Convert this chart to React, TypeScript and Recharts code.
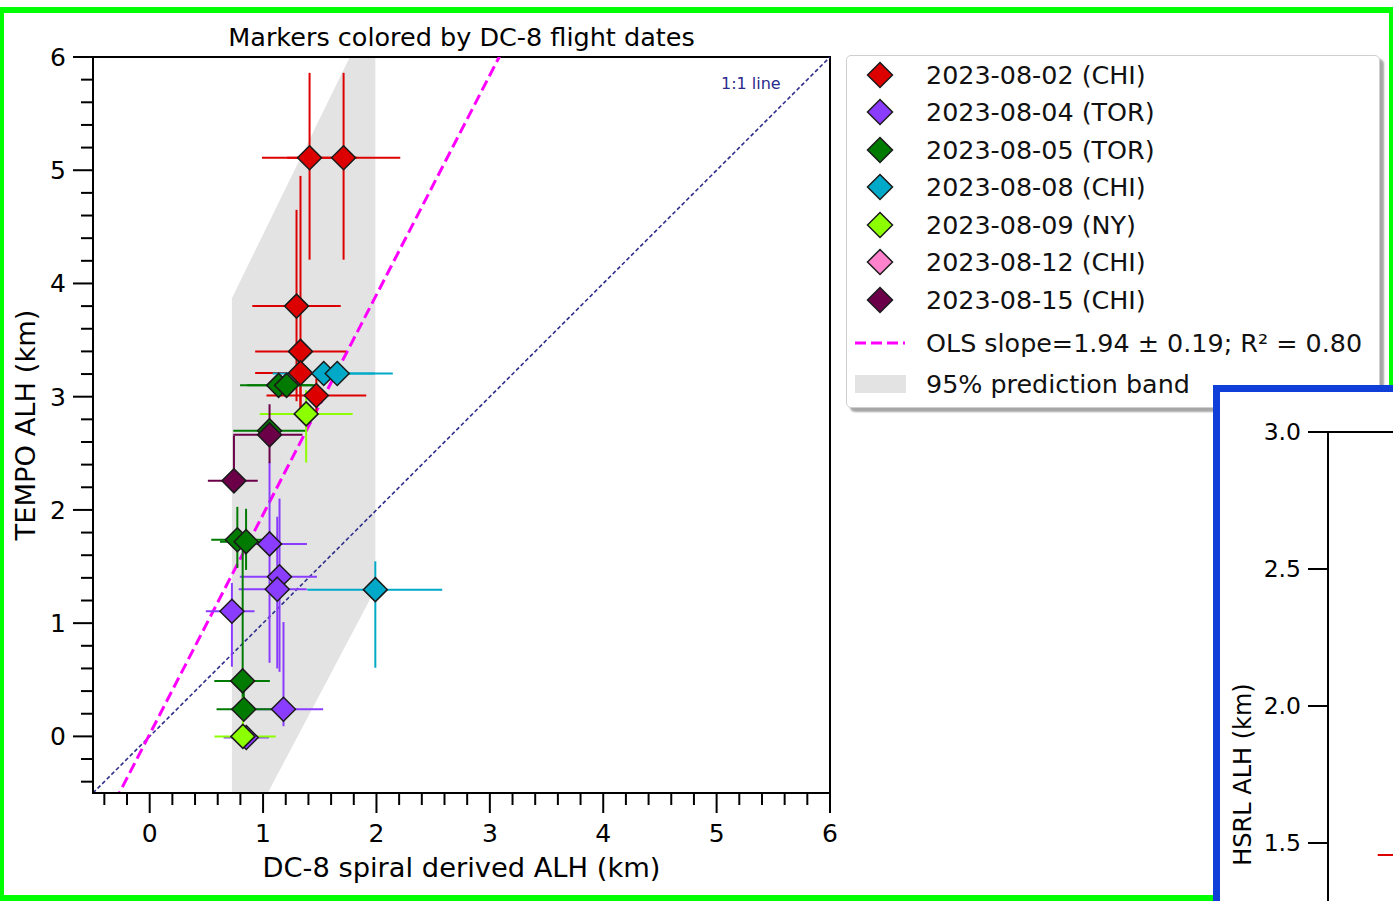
import React from 'react'
import {
  ComposedChart,
  Scatter,
  ErrorBar,
  XAxis,
  YAxis,
  Area,
  ReferenceLine,
  ReferenceArea,
  Label,
} from 'recharts'

const FONT = '"DejaVu Sans", sans-serif'

const flightLabels = [
  '2023-08-02 (CHI)',
  '2023-08-04 (TOR)',
  '2023-08-05 (TOR)',
  '2023-08-08 (CHI)',
  '2023-08-09 (NY)',
  '2023-08-12 (CHI)',
  '2023-08-15 (CHI)',
]
const flightColors = ['#dd0000', '#8b3dff', '#007a00', '#00a9c7', '#8cff00', '#ff82cc', '#6b0049']

// [dc8 x, tempo y, x err low, x err high, y err low, y err high] in km
const aug02 = [
  [1.41, 5.11, 0.42, 0.42, 0.9, 0.75],
  [1.71, 5.11, 0.5, 0.5, 0.9, 0.75],
  [1.295, 3.8, 0.39, 0.39, 0.84, 0.85],
  [1.33, 3.4, 0.4, 0.4, 0.6, 1.55],
  [1.33, 3.21, 0.4, 0.4, 0.3, 0.3],
  [1.47, 3.01, 0.44, 0.44, 0.15, 0.15],
]
const aug04 = [
  [1.057, 1.7, 0.3, 0.33, 1.05, 0.72],
  [1.145, 1.41, 0.35, 0.33, 0.84, 0.69],
  [1.125, 1.3, 0.34, 0.26, 0.7, 0.64],
  [0.725, 1.105, 0.23, 0.2, 0.49, 0.25],
  [1.18, 0.24, 0.24, 0.35, 0.15, 0.77],
  [0.852, -0.01, 0.2, 0.2, 0.05, 0.05],
]
const aug05 = [
  [1.137, 3.1, 0.34, 0.3, 0.05, 0.05],
  [1.207, 3.1, 0.35, 0.26, 0.05, 0.05],
  [1.057, 2.7, 0.32, 0.32, 0.1, 0.1],
  [0.773, 1.737, 0.23, 0.23, 0.25, 0.29],
  [0.85, 1.72, 0.23, 0.2, 0.25, 0.29],
  [0.82, 0.49, 0.25, 0.24, 0.15, 1.15],
  [0.83, 0.24, 0.24, 0.245, 0.1, 0.25],
]
const aug08 = [
  [1.535, 3.205, 0.45, 0.45, 0.05, 0.05],
  [1.654, 3.205, 0.45, 0.49, 0.05, 0.05],
  [1.99, 1.296, 0.6, 0.59, 0.69, 0.25],
]
const aug09 = [
  [1.38, 2.848, 0.41, 0.41, 0.43, 0.21],
  [0.822, 0.0, 0.25, 0.29, 0.05, 0.35],
]
const aug12: number[][] = []
const aug15 = [
  [1.057, 2.663, 0.32, 0.29, 0.25, 0.27],
  [0.743, 2.257, 0.23, 0.21, 0, 0.4],
]
const flightRows = [aug02, aug04, aug05, aug08, aug09, aug12, aug15]

// 95% prediction band, edges at both ends of the data range
const bandX = [0.725, 1.99]
const bandLow = [-1.1, 1.3]
const bandHigh = [3.87, 6.46]

const olsSlope = 1.94
const olsIntercept = 0.02
const olsLabel = 'OLS slope=1.94 ± 0.19; R² = 0.80'
const bandLabel = '95% prediction band'

const majorTicks = [0, 1, 2, 3, 4, 5, 6]
const minorTicks: number[] = []
for (let v = -0.4; v <= 6.0001; v += 0.2) minorTicks.push(Math.round(v * 10) / 10)

// inset (HSRL) panel, mostly outside the picture
const insetTicks = [1.5, 2.0, 2.5, 3.0]
const insetRows = [[0.95, 1.456, 0.62, 0.62, 0, 0]]

const toPoints = (rows: number[][]) =>
  rows.map(([x, y, xl, xh, yl, yh]) => ({ x, y, ex: [xl, xh], ey: [yl, yh] }))

const diamondShape = (color: string) => (props: any) => {
  const { cx, cy } = props
  if (cx == null || cy == null) return <g />
  const r = 12
  return (
    <polygon
      points={`${cx},${cy - r} ${cx + r},${cy} ${cx},${cy + r} ${cx - r},${cy}`}
      fill={color}
      stroke="#1a1a1a"
      strokeWidth={1.5}
    />
  )
}

const XTick = (props: any) => {
  const { x, y, payload } = props
  const major = majorTicks.includes(payload.value)
  return (
    <g>
      <line x1={x} x2={x} y1={y} y2={y + (major ? 20 : 12)} stroke="#000" strokeWidth={2} />
      {major && (
        <text x={x} y={y + 49} textAnchor="middle" fontSize={25} fontFamily={FONT} fill="#000">
          {payload.value}
        </text>
      )}
    </g>
  )
}

const YTick = (props: any) => {
  const { x, y, payload } = props
  const major = majorTicks.includes(payload.value)
  return (
    <g>
      <line x1={x - (major ? 20 : 12)} x2={x} y1={y} y2={y} stroke="#000" strokeWidth={2} />
      {major && (
        <text x={x - 27} y={y} dy="0.36em" textAnchor="end" fontSize={25} fontFamily={FONT} fill="#000">
          {payload.value}
        </text>
      )}
    </g>
  )
}

const InsetTick = (props: any) => {
  const { x, y, payload } = props
  return (
    <g>
      <line x1={x - 20} x2={x} y1={y} y2={y} stroke="#000" strokeWidth={2} />
      <text x={x - 27} y={y} dy="0.36em" textAnchor="end" fontSize={23.5} fontFamily={FONT} fill="#000">
        {payload.value.toFixed(1)}
      </text>
    </g>
  )
}

function MainChart() {
  const bandData = bandX.map((x, i) => ({ x, band: [bandLow[i], bandHigh[i]] }))
  return (
    <ComposedChart
      width={860}
      height={900}
      data={bandData}
      margin={{ top: 57, right: 30, bottom: 0, left: 0 }}
    >
      <XAxis
        type="number"
        dataKey="x"
        domain={[-0.5, 6]}
        allowDataOverflow
        ticks={minorTicks}
        interval={0}
        tickSize={0}
        tickMargin={0}
        tickLine={false}
        tick={XTick}
        axisLine={{ stroke: '#000', strokeWidth: 2 }}
        height={107}
      >
        <Label
          content={(p: any) => {
            const vb = p.viewBox || { x: 93, y: 793, width: 737 }
            return (
              <text x={vb.x + vb.width / 2} y={vb.y + 84} textAnchor="middle" fontSize={27.3} fontFamily={FONT} fill="#000">
                DC-8 spiral derived ALH (km)
              </text>
            )
          }}
        />
      </XAxis>
      <YAxis
        type="number"
        dataKey="y"
        domain={[-0.5, 6]}
        allowDataOverflow
        ticks={minorTicks}
        interval={0}
        tickSize={0}
        tickMargin={0}
        tickLine={false}
        tick={YTick}
        axisLine={{ stroke: '#000', strokeWidth: 2 }}
        width={93}
      >
        <Label
          content={(p: any) => {
            const vb = p.viewBox || { y: 57, height: 736 }
            const cy = vb.y + vb.height / 2
            return (
              <text x={25} y={cy} dy="0.36em" transform={`rotate(-90 25 ${cy})`} textAnchor="middle" fontSize={27.3} fontFamily={FONT} fill="#000">
                TEMPO ALH (km)
              </text>
            )
          }}
        />
      </YAxis>
      <Area
        dataKey="band"
        type="linear"
        stroke="none"
        fill="#e3e3e3"
        fillOpacity={1}
        isAnimationActive={false}
      />
      <ReferenceLine
        segment={[{ x: -0.5, y: -0.5 }, { x: 6, y: 6 }]}
        stroke="#2e2e8a"
        strokeWidth={1.6}
        strokeDasharray="4 2.5"
        ifOverflow="hidden"
      />
      <ReferenceLine
        segment={[
          { x: -0.5, y: olsIntercept + olsSlope * -0.5 },
          { x: 6, y: olsIntercept + olsSlope * 6 },
        ]}
        stroke="#ff00ff"
        strokeWidth={3}
        strokeDasharray="11 5"
        ifOverflow="hidden"
      />
      {flightRows.map((rows, i) => (
        <Scatter
          key={flightLabels[i]}
          name={flightLabels[i]}
          data={toPoints(rows)}
          shape={diamondShape(flightColors[i])}
          isAnimationActive={false}
        >
          <ErrorBar dataKey="ex" direction="x" width={0} stroke={flightColors[i]} strokeWidth={2} isAnimationActive={false} />
          <ErrorBar dataKey="ey" direction="y" width={0} stroke={flightColors[i]} strokeWidth={2} isAnimationActive={false} />
        </Scatter>
      ))}
      <ReferenceArea x1={-0.5} x2={6} y1={-0.5} y2={6} fill="none" stroke="#000" strokeWidth={2} ifOverflow="visible" />
    </ComposedChart>
  )
}

function InsetChart() {
  return (
    <ComposedChart width={560} height={725} margin={{ top: 40, right: 0, bottom: 0, left: 0 }}>
      <XAxis type="number" dataKey="x" domain={[0, 3]} allowDataOverflow hide />
      <YAxis
        type="number"
        dataKey="y"
        domain={[0.5, 3]}
        allowDataOverflow
        ticks={insetTicks}
        interval={0}
        tickSize={0}
        tickMargin={0}
        tickLine={false}
        tick={InsetTick}
        axisLine={{ stroke: '#000', strokeWidth: 2 }}
        width={108}
      >
        <Label
          content={(p: any) => {
            const vb = p.viewBox || { y: 40, height: 685 }
            const cy = vb.y + vb.height / 2
            return (
              <text x={22} y={cy} dy="0.36em" transform={`rotate(-90 22 ${cy})`} textAnchor="middle" fontSize={24} fontFamily={FONT} fill="#000">
                HSRL ALH (km)
              </text>
            )
          }}
        />
      </YAxis>
      <Scatter data={toPoints(insetRows)} shape={diamondShape(flightColors[0])} isAnimationActive={false}>
        <ErrorBar dataKey="ex" direction="x" width={0} stroke={flightColors[0]} strokeWidth={2} isAnimationActive={false} />
      </Scatter>
      <ReferenceArea x1={0} x2={3} y1={0.5} y2={3} fill="none" stroke="#000" strokeWidth={2} ifOverflow="visible" />
    </ComposedChart>
  )
}

function LegendBox() {
  const rowTop = (i: number) => 18.5 + i * 37.5 - 18
  return (
    <div
      style={{
        position: 'absolute',
        left: 846,
        top: 55,
        width: 534,
        height: 353,
        boxSizing: 'border-box',
        background: '#fff',
        border: '1px solid #cfcfcf',
        borderRadius: 5,
        boxShadow: '4px 4px 2px rgba(0,0,0,0.35)',
        fontFamily: FONT,
        fontSize: 25.4,
        color: '#111',
      }}
    >
      {flightLabels.map((label, i) => (
        <div
          key={label}
          style={{ position: 'absolute', left: 0, top: rowTop(i), height: 36, display: 'flex', alignItems: 'center', whiteSpace: 'nowrap' }}
        >
          <svg width={79} height={36}>
            <polygon points="33,5.5 45.5,18 33,30.5 20.5,18" fill={flightColors[i]} stroke="#1a1a1a" strokeWidth={1.5} />
          </svg>
          <span>{label}</span>
        </div>
      ))}
      <div style={{ position: 'absolute', left: 0, top: 287 - 18, height: 36, display: 'flex', alignItems: 'center', whiteSpace: 'nowrap' }}>
        <svg width={79} height={36}>
          <line x1={8} x2={58} y1={18} y2={18} stroke="#ff00ff" strokeWidth={3} strokeDasharray="11 5" />
        </svg>
        <span>{olsLabel}</span>
      </div>
      <div style={{ position: 'absolute', left: 0, top: 328 - 18, height: 36, display: 'flex', alignItems: 'center', whiteSpace: 'nowrap' }}>
        <svg width={79} height={36}>
          <rect x={8} y={9} width={51} height={18} fill="#e3e3e3" />
        </svg>
        <span>{bandLabel}</span>
      </div>
    </div>
  )
}

export default function App() {
  return (
    <div
      style={{
        position: 'absolute',
        left: 0,
        top: 0,
        width: 1393,
        height: 901,
        overflow: 'hidden',
        background: '#fff',
        fontFamily: FONT,
      }}
    >
      <div
        style={{
          position: 'absolute',
          left: 0,
          top: 7,
          width: 1393,
          height: 894,
          boxSizing: 'border-box',
          borderStyle: 'solid',
          borderColor: '#00ff00',
          borderWidth: '6px 4px 6px 4px',
        }}
      />
      <div
        style={{
          position: 'absolute',
          left: 93,
          top: 22,
          width: 737,
          lineHeight: '30px',
          textAlign: 'center',
          fontSize: 25.5,
          color: '#000',
        }}
      >
        Markers colored by DC-8 flight dates
      </div>
      <div style={{ position: 'absolute', left: 0, top: 0 }}>
        <MainChart />
      </div>
      <div style={{ position: 'absolute', left: 721, top: 74, lineHeight: '20px', fontSize: 16, color: '#2b2b8c' }}>
        1:1 line
      </div>
      <LegendBox />
      <div
        style={{
          position: 'absolute',
          left: 1213,
          top: 385,
          width: 260,
          height: 600,
          boxSizing: 'border-box',
          border: '7px solid #0f3ed9',
          background: '#fff',
          overflow: 'hidden',
        }}
      >
        <div style={{ position: 'absolute', left: 0, top: 0 }}>
          <InsetChart />
        </div>
      </div>
    </div>
  )
}
